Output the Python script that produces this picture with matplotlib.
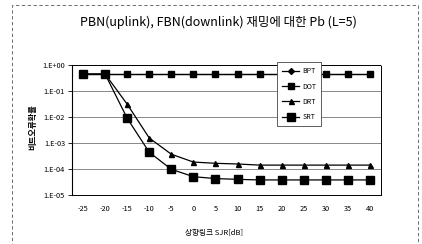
import matplotlib
matplotlib.use("Agg")
import matplotlib.pyplot as plt
import numpy as np

plt.rcParams["font.family"] = ["Noto Sans CJK KR", "DejaVu Sans"]

sjr_labels = ["-25", "-20", "-15", "-10", "-5", "0", "5", "10", "15", "20", "25", "30", "35", "40"]
bpt = [0.46] * 14
dot = [0.46] * 14
drt = [0.46, 0.46, 0.032, 0.0016, 3.8e-4, 1.9e-4, 1.7e-4, 1.6e-4, 1.45e-4, 1.45e-4, 1.45e-4, 1.45e-4, 1.45e-4, 1.45e-4]
srt = [0.46, 0.46, 0.0092, 4.5e-4, 1.0e-4, 5.2e-5, 4.4e-5, 4.1e-5, 3.9e-5, 3.9e-5, 3.9e-5, 3.9e-5, 3.9e-5, 3.9e-5]
ytick_labels = ["1.E+00", "1.E-01", "1.E-02", "1.E-03", "1.E-04", "1.E-05"]

W, H = 422, 244
fig = plt.figure(figsize=(W / 100, H / 100), dpi=100)

# outer dashed chart frame
frame = plt.Rectangle((12 / W, 0.0), (418 - 12) / W, 1 - 5 / H,
                      transform=fig.transFigure, fill=False, edgecolor="#555555",
                      linewidth=0.6, linestyle=(0, (4, 3)))
fig.add_artist(frame)

ax = fig.add_axes([72 / W, 1 - 195.3 / H, (381 - 72) / W, (195.3 - 65.3) / H])
x = np.arange(len(sjr_labels))

ax.plot(x, bpt, color="black", lw=0.9, marker="D", ms=3, label="BPT")
ax.plot(x, dot, color="black", lw=0.9, marker="s", ms=3.8, label="DOT")
ax.plot(x, drt, color="black", lw=0.9, marker="^", ms=3.6, label="DRT")
ax.plot(x, srt, color="black", lw=0.9, marker="s", ms=5.5, label="SRT")

ax.set_yscale("log")
ax.set_ylim(1e-5, 1)
ax.set_xlim(-0.5, len(sjr_labels) - 0.5)
ax.set_yticks([1, 1e-1, 1e-2, 1e-3, 1e-4, 1e-5])
ax.set_yticklabels(ytick_labels)
ax.minorticks_off()
ax.set_xticks(x)
ax.set_xticklabels(sjr_labels)
ax.tick_params(axis="y", labelsize=5.3, length=3, width=0.6, pad=2)
ax.tick_params(axis="x", labelsize=5.3, length=0, pad=7)
for lbl in ax.get_xticklabels():
    lbl.set_style("italic")

ax.grid(axis="y", color="#888888", lw=0.7)
ax.set_axisbelow(True)
for side in ["top", "right", "bottom"]:
    ax.spines[side].set_linestyle((0, (1, 1)))
    ax.spines[side].set_linewidth(0.7)
ax.spines["left"].set_linewidth(0.8)

fig.text(218 / W, 1 - 22 / H, "PBN(uplink), FBN(downlink) 재밍에 대한 Pb (L=5)",
         ha="center", va="center", fontsize=9)
fig.text(33 / W, 1 - 127 / H, "비트오류확률", rotation=90, ha="center", va="center",
         fontsize=6, fontweight="bold")
fig.text(214 / W, 1 - 233 / H, "상향링크 SJR[dB]", ha="center", va="center",
         fontsize=5.5)

leg = ax.legend(loc="upper left", bbox_to_anchor=(274 / W, 1 - 59 / H),
                bbox_transform=fig.transFigure, fontsize=5, frameon=True,
                fancybox=False, framealpha=1, edgecolor="#444444",
                handlelength=2.4, labelspacing=1.05, borderpad=0.7,
                handletextpad=0.5)
leg.get_frame().set_linewidth(0.6)

fig.savefig("out.png", dpi=100)
